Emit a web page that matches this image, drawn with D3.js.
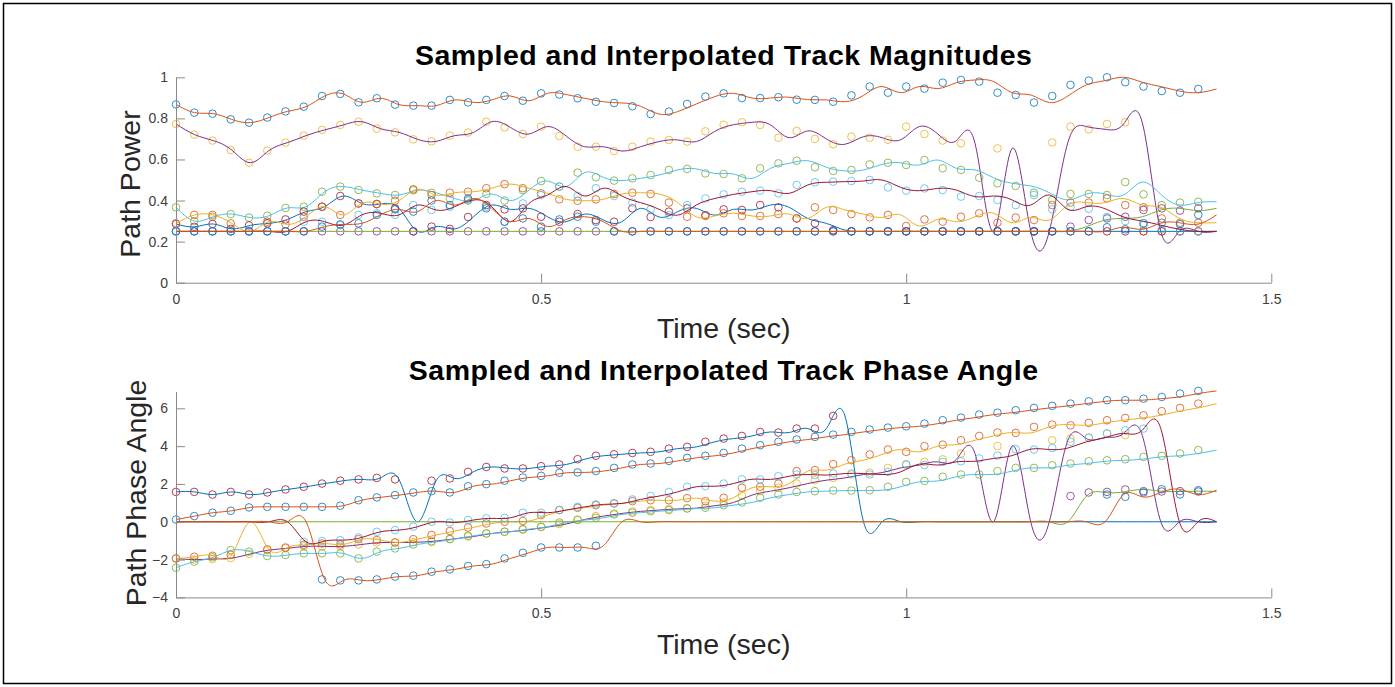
<!DOCTYPE html>
<html>
<head>
<meta charset="utf-8">
<script src="https://cdn.jsdelivr.net/npm/d3@7"></script>
<style>
  body { margin: 0; background: #fff; }
  svg { display: block; font-family: "Liberation Sans", Arial, Helvetica, sans-serif; }
</style>
</head>
<body>
<svg id="chart" width="1395" height="687"></svg>
<script>
// sample grid: circles every hop, the spline is drawn over the slightly longer signal span
const HOP = 0.025;
const LINE_END = 1.425;
const X_TICKS = [0, 0.5, 1, 1.5];
const MAG_TICKS = [0, 0.2, 0.4, 0.6, 0.8, 1];
const PHASE_TICKS = [-4, -2, 0, 2, 4, 6];
const MAG_FLOOR = 0.25;

// matlab default colour order
const C = {
  blue: "#0072BD", orange: "#D95319", yellow: "#EDB120", purple: "#7E2F8E",
  green: "#77AC30", lightblue: "#4DBEEE", darkred: "#A2142F"
};

// ---- magnitudes (one value per frame, floor when the track is idle)
const magT1 = [0.868,0.828,0.823,0.795,0.779,0.804,0.834,0.857,0.909,0.919,0.878,0.898,0.867,0.862,0.862,
  0.890,0.878,0.890,0.909,0.886,0.922,0.916,0.898,0.881,0.875,0.859,0.821,0.833,0.870,
  0.906,0.922,0.899,0.899,0.903,0.891,0.890,0.881,0.912,0.955,0.925,0.955,0.945,0.974,
  0.987,0.979,0.925,0.914,0.877,0.909,0.963,0.984,1.000,0.976,0.955,0.933,0.925,0.943];
const magT2 = [0.773,0.721,0.692,0.646,0.584,0.643,0.682,0.716,0.744,0.768,0.784,0.750,0.732,0.698,0.688,
  0.716,0.731,0.784,0.756,0.724,0.760,0.714,0.662,0.662,0.641,0.662,0.687,0.695,0.687,
  0.737,0.769,0.781,0.768,0.706,0.739,0.700,0.674,0.711,0.706,0.696,0.760,0.724,0.692,
  0.679,0.25,0.654,0.25,0.25,0.683,0.760,0.747,0.773,0.781,0.25,0.25,0.25,0.25];
const magT3 = [0.367,0.300,0.321,0.334,0.317,0.326,0.364,0.370,0.443,0.468,0.451,0.435,0.427,0.450,0.438,
  0.410,0.400,0.432,0.400,0.451,0.495,0.468,0.536,0.513,0.497,0.508,0.524,0.549,0.554,
  0.532,0.529,0.508,0.557,0.581,0.594,0.562,0.544,0.549,0.576,0.584,0.573,0.597,0.557,
  0.549,0.511,0.484,0.471,0.438,0.403,0.432,0.432,0.427,0.490,0.430,0.378,0.390,0.394];
const magT4 = [0.286,0.272,0.286,0.262,0.279,0.289,0.308,0.346,0.370,0.422,0.386,0.383,0.362,0.250,0.273,
  0.262,0.320,0.378,0.357,0.362,0.321,0.297,0.334,0.305,0.297,0.362,0.320,0.346,0.362,
  0.329,0.357,0.354,0.378,0.367,0.313,0.289,0.256,0.25,0.25,0.25,0.25,0.25,0.25,
  0.25,0.25,0.25,0.25,0.25,0.25,0.25,0.25,0.25,0.25,0.25,0.25,0.25,0.25];
const magT5 = [0.289,0.330,0.330,0.289,0.250,0.297,0.284,0.321,0.370,0.330,0.386,0.383,0.399,0.455,0.427,
  0.438,0.443,0.460,0.480,0.460,0.435,0.406,0.399,0.406,0.432,0.438,0.432,0.390,0.321,
  0.325,0.338,0.325,0.325,0.334,0.313,0.367,0.354,0.334,0.318,0.330,0.276,0.308,0.297,
  0.321,0.338,0.292,0.317,0.305,0.378,0.390,0.390,0.410,0.378,0.367,0.313,0.292,0.292];
const magT6 = [0.25,0.25,0.25,0.25,0.25,0.25,0.25,0.25,0.25,0.25,0.25,0.25,0.25,0.25,0.25,
  0.25,0.25,0.25,0.25,0.25,0.25,0.25,0.25,0.25,0.25,0.25,0.25,0.25,0.25,
  0.25,0.25,0.25,0.25,0.25,0.25,0.25,0.25,0.25,0.25,0.25,0.25,0.25,0.25,
  0.25,0.25,0.25,0.25,0.25,0.25,0.273,0.305,0.313,0.321,0.354,0.362,0.351,0.362];
const magT7 = [0.25,0.25,0.25,0.25,0.25,0.25,0.25,0.297,0.297,0.280,0.330,0.338,0.330,0.378,0.354,
  0.370,0.403,0.370,0.297,0.386,0.427,0.468,0.422,0.460,0.422,0.390,0.357,0.329,0.378,
  0.410,0.430,0.443,0.448,0.435,0.476,0.489,0.492,0.495,0.500,0.464,0.448,0.459,0.451,
  0.419,0.422,0.403,0.378,0.427,0.357,0.370,0.360,0.320,0.300,0.280,0.260,0.250,0.250];
const magT8 = [0.25,0.25,0.25,0.25,0.25,0.25,0.25,0.25,0.273,0.284,0.289,0.330,0.357,0.346,0.400,
  0.378,0.410,0.362,0.297,0.313,0.273,0.308,0.321,0.297,0.25,0.25,0.25,0.25,0.25,
  0.25,0.25,0.25,0.25,0.25,0.25,0.25,0.25,0.25,0.25,0.25,0.25,0.25,0.25,
  0.25,0.25,0.25,0.25,0.25,0.25,0.25,0.25,0.270,0.260,0.290,0.292,0.285,0.330];

// ---- phases (null when the track is idle, the spline then runs through 0)
const phT1 = [0.12,0.30,0.48,0.58,0.76,0.79,0.79,0.79,0.79,0.85,1.14,1.29,1.41,1.55,1.62,
  1.55,1.88,1.99,2.17,2.34,2.43,2.59,2.61,2.68,2.85,3.03,3.08,3.22,3.38,
  3.49,3.64,3.87,4.05,4.23,4.35,4.49,4.61,4.75,4.88,4.98,5.05,5.19,5.37,
  5.51,5.67,5.77,5.90,6.02,6.13,6.25,6.37,6.43,6.43,6.51,6.60,6.78,6.92];
const phT2 = [-1.95,-2.00,-1.97,-1.92,-1.70,-1.50,-1.40,-1.30,-1.30,-1.30,-1.20,-1.10,-1.10,-1.08,-1.02,
  -0.90,-0.78,-0.62,-0.52,-0.42,-0.28,-0.12,0.12,0.30,0.44,0.55,0.62,0.68,0.72,
  0.85,1.02,1.41,1.62,1.80,2.02,2.20,2.32,2.50,2.60,2.85,3.00,3.17,3.30,
  3.61,null,4.01,null,null,4.31,4.40,4.45,4.67,4.58,null,null,null,null];
const phT3 = [-2.43,-2.11,-1.88,-1.50,-1.58,-1.81,-1.76,-1.67,-1.67,-1.67,-1.94,-1.58,-1.41,-1.20,-1.06,
  -0.92,-0.74,-0.62,-0.53,-0.39,-0.26,-0.04,0.09,0.21,0.39,0.48,0.56,0.62,0.70,
  0.74,0.88,1.02,1.27,1.44,1.58,1.62,1.65,1.65,1.67,1.85,2.11,2.16,2.38,
  2.50,2.50,2.68,2.85,2.85,2.99,3.08,3.20,3.25,3.31,3.43,3.49,3.61,3.79];
const phT4 = [1.58,1.58,1.44,1.58,1.44,1.55,1.71,1.85,2.02,2.17,2.24,2.32,2.24,null,2.17,
  2.29,2.64,2.90,2.82,2.82,2.94,3.03,3.31,3.49,3.57,3.64,3.70,3.87,3.96,
  4.23,4.40,4.54,4.75,4.72,4.93,4.93,5.60,null,null,null,null,null,null,
  null,null,null,null,null,null,null,null,null,null,null,null,null,null];
const phT5 = [-1.94,-1.85,-1.80,-1.75,null,-1.46,-1.36,-1.22,-1.15,-1.20,-0.92,-0.97,-1.09,-0.92,-0.70,
  -0.49,-0.30,-0.09,0.00,0.04,0.35,0.62,0.74,0.88,0.97,1.09,1.14,1.14,1.25,
  1.09,1.27,1.80,1.85,2.02,2.68,2.73,3.05,3.26,3.56,3.82,3.70,4.00,4.08,
  4.31,4.54,4.72,4.70,5.02,5.14,5.10,5.23,5.37,5.49,5.63,5.85,6.02,6.25];
const phT6 = [null,null,null,null,null,null,null,null,null,null,null,null,null,null,null,
  null,null,null,null,null,null,null,null,null,null,null,null,null,null,
  null,null,null,null,null,null,null,null,null,null,null,null,null,null,
  null,null,null,null,null,null,1.36,1.55,1.58,1.71,1.62,1.60,1.62,1.60];
const phT7 = [null,null,null,null,null,null,null,-1.06,-1.02,-0.97,-0.83,-0.53,-0.44,-0.26,0.00,
  -0.04,0.09,0.18,0.21,0.48,0.48,0.62,0.79,0.92,0.97,1.18,1.36,1.58,1.85,
  1.88,2.02,2.25,2.24,2.41,2.50,2.47,2.55,2.55,2.50,2.64,3.05,3.00,3.17,
  3.20,3.35,3.50,3.84,3.82,3.90,4.23,4.45,4.67,4.84,4.93,null,null,null];
const phT8 = [null,null,null,null,null,null,null,null,-3.05,-3.10,-3.10,-3.05,-2.90,-2.85,-2.64,
  -2.52,-2.34,-2.24,-1.94,-1.64,-1.36,-1.36,-1.36,-1.27,null,null,null,null,null,
  null,null,null,null,null,null,null,null,null,null,null,null,null,null,
  null,null,null,null,null,null,null,null,1.44,1.32,1.55,1.72,1.44,1.67];

// marker colour, line colour (plot order: markers then spline, per track)
const TRACK_COLORS = [
  [C.blue, C.orange], [C.yellow, C.purple], [C.green, C.lightblue], [C.darkred, C.blue],
  [C.orange, C.yellow], [C.purple, C.green], [C.lightblue, C.darkred], [C.blue, C.orange]
];
const magTracks = [magT1, magT2, magT3, magT4, magT5, magT6, magT7, magT8];
const phaseTracks = [phT1, phT2, phT3, phT4, phT5, phT6, phT7, phT8];

const svg = d3.select("#chart");
const AXIS_GRAY = "#8a8a8a";
const TEXT_GRAY = "#404040";

svg.append("rect")
  .attr("x", 3.5).attr("y", 3.5)
  .attr("width", 1388).attr("height", 680)
  .attr("fill", "none").attr("stroke", "#000").attr("stroke-width", 1.5);

drawPanel({
  title: "Sampled and Interpolated Track Magnitudes",
  ylabel: "Path Power",
  top: 77.3, bottom: 282.7,
  yDomain: [0, 1], yTicks: MAG_TICKS,
  tracks: magTracks, fill: MAG_FLOOR,
  titleY: 65, xlabelY: 338, ylabelX: 140, ylabelY: 184
});

drawPanel({
  title: "Sampled and Interpolated Track Phase Angle",
  ylabel: "Path Phase Angle",
  top: 391.5, bottom: 597.4,
  yDomain: [-4, 6.89], yTicks: PHASE_TICKS,
  tracks: phaseTracks, fill: 0,
  titleY: 380, xlabelY: 654, ylabelX: 146, ylabelY: 493
});

function drawPanel(cfg) {
  const x = d3.scaleLinear().domain([0, 1.5]).range([176, 1271.3]);
  const y = d3.scaleLinear().domain(cfg.yDomain).range([cfg.bottom, cfg.top]);
  const g = svg.append("g");

  const n = cfg.tracks[0].length;
  const lineTime = (i) => (i * LINE_END) / (n - 1);
  const spline = d3.line()
    .x((d) => x(d.t))
    .y((d) => y(d.v))
    .curve(d3.curveNatural);

  cfg.tracks.forEach((vals, i) => {
    const [markColor, lineColor] = TRACK_COLORS[i];
    const marks = vals
      .map((v, k) => ({ t: k * HOP, v }))
      .filter((d) => d.v !== null);
    g.append("g")
      .selectAll("circle")
      .data(marks)
      .join("circle")
      .attr("cx", (d) => x(d.t))
      .attr("cy", (d) => y(d.v))
      .attr("r", 3.8)
      .attr("fill", "none")
      .attr("stroke", markColor)
      .attr("stroke-opacity", 0.8)
      .attr("stroke-width", 1);

    const knots = vals.map((v, k) => ({ t: lineTime(k), v: v === null ? cfg.fill : v }));
    g.append("path")
      .datum(knots)
      .attr("d", spline)
      .attr("fill", "none")
      .attr("stroke", lineColor)
      .attr("stroke-width", 1);
  });

  const xAxis = g.append("g")
    .attr("transform", `translate(0,${cfg.bottom})`)
    .call(d3.axisBottom(x).tickValues(X_TICKS).tickFormat(d3.format("~g"))
      .tickSizeInner(-9).tickSizeOuter(0).tickPadding(11));
  const yAxis = g.append("g")
    .attr("transform", `translate(${x(0)},0)`)
    .call(d3.axisLeft(y).tickValues(cfg.yTicks).tickFormat(d3.format("~g"))
      .tickSizeInner(-9).tickSizeOuter(0).tickPadding(8));

  for (const axis of [xAxis, yAxis]) {
    axis.select(".domain").attr("stroke", AXIS_GRAY);
    axis.selectAll(".tick line").attr("stroke", AXIS_GRAY);
    axis.selectAll(".tick text")
      .attr("fill", TEXT_GRAY)
      .style("font-size", "14px")
      .style("font-family", "'Liberation Sans', Arial, sans-serif");
  }

  const midX = (x(0) + x(1.5)) / 2;
  g.append("text")
    .attr("x", midX).attr("y", cfg.titleY)
    .attr("text-anchor", "middle")
    .attr("font-weight", "bold")
    .attr("font-size", 28.5)
    .attr("letter-spacing", 0.5)
    .attr("fill", "#000")
    .text(cfg.title);

  g.append("text")
    .attr("x", midX).attr("y", cfg.xlabelY)
    .attr("text-anchor", "middle")
    .attr("font-size", 28.5)
    .attr("fill", "#262626")
    .text("Time (sec)");

  g.append("text")
    .attr("transform", `translate(${cfg.ylabelX},${cfg.ylabelY}) rotate(-90)`)
    .attr("text-anchor", "middle")
    .attr("font-size", 28.5)
    .attr("fill", "#262626")
    .text(cfg.ylabel);
}
</script>
</body>
</html>
